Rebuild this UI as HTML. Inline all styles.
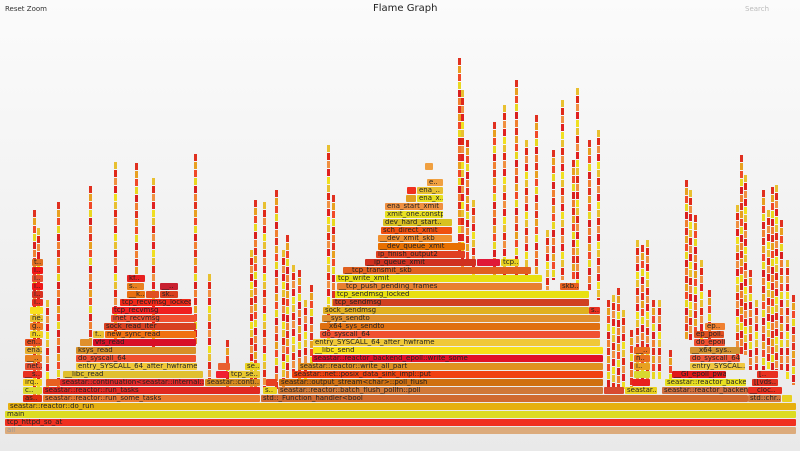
<!DOCTYPE html>
<html><head><meta charset="utf-8"><style>
html,body{margin:0;padding:0}
body{width:800px;height:451px;overflow:hidden;position:relative;background:linear-gradient(#fbfbfb,#e9e9e9);font-family:"DejaVu Sans","Liberation Sans",sans-serif}
.b{position:absolute;height:7px;line-height:7px;font-size:7px;color:#222;white-space:nowrap;overflow:hidden;padding-left:2px;box-sizing:border-box;border-radius:1px}
.s{position:absolute;width:3px;background:repeating-linear-gradient(#e03020 0 7px,transparent 7px 8px,#e8a020 8px 15px,transparent 15px 16px,#f04828 16px 23px,transparent 23px 24px,#e8d820 24px 31px,transparent 31px 32px,#d82020 32px 39px,transparent 39px 40px,#f08030 40px 47px,transparent 47px 48px)}
.s2{background:repeating-linear-gradient(#e8c030 0 7px,transparent 7px 8px,#e02818 8px 15px,transparent 15px 16px,#f09040 16px 23px,transparent 23px 24px,#e02020 24px 31px,transparent 31px 32px,#f0e020 32px 39px,transparent 39px 40px)}
.t{position:absolute;font-size:7px;color:#333}
</style></head><body>
<div class="t" style="left:5px;top:5px">Reset Zoom</div>
<div class="t" style="left:373px;top:3px;font-size:10px;color:#222">Flame Graph</div>
<div class="t" style="left:745px;top:5px;color:#bbb">Search</div>

<!-- spikes -->
<div class="s" style="left:33px;top:210px;height:185px"></div>
<div class="s s2" style="left:37px;top:228px;height:167px"></div>
<div class="s" style="left:57px;top:202px;height:185px"></div>
<div class="s s2" style="left:46px;top:300px;height:87px"></div>
<div class="s" style="left:89px;top:186px;height:160px"></div>
<div class="s s2" style="left:114px;top:162px;height:180px"></div>
<div class="s" style="left:135px;top:163px;height:180px"></div>
<div class="s s2" style="left:152px;top:178px;height:170px"></div>
<div class="s" style="left:194px;top:154px;height:190px"></div>
<div class="s s2" style="left:208px;top:274px;height:110px"></div>
<div class="s" style="left:226px;top:340px;height:50px"></div>
<div class="s s2" style="left:250px;top:250px;height:140px"></div>
<div class="s" style="left:254px;top:200px;height:190px"></div>
<div class="s s2" style="left:263px;top:202px;height:190px"></div>
<div class="s" style="left:275px;top:190px;height:200px"></div>
<div class="s s2" style="left:282px;top:250px;height:140px"></div>
<div class="s" style="left:286px;top:235px;height:150px"></div>
<div class="s s2" style="left:292px;top:265px;height:110px"></div>
<div class="s" style="left:298px;top:270px;height:110px"></div>
<div class="s s2" style="left:304px;top:300px;height:80px"></div>
<div class="s" style="left:310px;top:285px;height:80px"></div>
<div class="s s2" style="left:327px;top:145px;height:200px"></div>
<div class="s" style="left:332px;top:195px;height:150px"></div>
<div class="s" style="left:458px;top:58px;height:200px"></div>
<div class="s s2" style="left:461px;top:90px;height:180px"></div>
<div class="s" style="left:466px;top:140px;height:120px"></div>
<div class="s s2" style="left:472px;top:200px;height:80px"></div>
<div class="s" style="left:493px;top:122px;height:160px"></div>
<div class="s s2" style="left:503px;top:105px;height:170px"></div>
<div class="s" style="left:515px;top:80px;height:200px"></div>
<div class="s s2" style="left:525px;top:140px;height:140px"></div>
<div class="s" style="left:535px;top:115px;height:160px"></div>
<div class="s s2" style="left:546px;top:230px;height:60px"></div>
<div class="s" style="left:552px;top:150px;height:130px"></div>
<div class="s s2" style="left:561px;top:100px;height:180px"></div>
<div class="s" style="left:572px;top:160px;height:120px"></div>
<div class="s s2" style="left:576px;top:88px;height:200px"></div>
<div class="s" style="left:588px;top:140px;height:150px"></div>
<div class="s s2" style="left:597px;top:130px;height:170px"></div>
<div class="s" style="left:607px;top:300px;height:90px"></div>
<div class="s s2" style="left:612px;top:295px;height:95px"></div>
<div class="s" style="left:617px;top:288px;height:100px"></div>
<div class="s s2" style="left:622px;top:310px;height:80px"></div>
<div class="s" style="left:630px;top:330px;height:60px"></div>
<div class="s s2" style="left:636px;top:240px;height:140px"></div>
<div class="s" style="left:641px;top:245px;height:140px"></div>
<div class="s s2" style="left:646px;top:240px;height:140px"></div>
<div class="s" style="left:652px;top:300px;height:80px"></div>
<div class="s s2" style="left:658px;top:300px;height:80px"></div>
<div class="s" style="left:669px;top:350px;height:30px"></div>
<div class="s" style="left:685px;top:180px;height:160px"></div>
<div class="s s2" style="left:689px;top:190px;height:150px"></div>
<div class="s" style="left:694px;top:215px;height:120px"></div>
<div class="s s2" style="left:700px;top:260px;height:80px"></div>
<div class="s" style="left:708px;top:290px;height:50px"></div>
<div class="s s2" style="left:736px;top:205px;height:150px"></div>
<div class="s" style="left:740px;top:155px;height:200px"></div>
<div class="s s2" style="left:744px;top:175px;height:180px"></div>
<div class="s" style="left:749px;top:270px;height:100px"></div>
<div class="s s2" style="left:755px;top:300px;height:70px"></div>
<div class="s" style="left:762px;top:190px;height:180px"></div>
<div class="s s2" style="left:767px;top:210px;height:160px"></div>
<div class="s" style="left:771px;top:187px;height:185px"></div>
<div class="s s2" style="left:775px;top:185px;height:185px"></div>
<div class="s" style="left:780px;top:220px;height:150px"></div>
<div class="s s2" style="left:786px;top:260px;height:120px"></div>
<div class="s" style="left:792px;top:295px;height:90px"></div>

<!-- base -->
<div class="b" style="left:5px;top:427px;width:791px;background:#dcab7c;color:#999">all</div>
<div class="b" style="left:5px;top:419px;width:791px;background:#f03020">tcp_httpd_so_at</div>
<div class="b" style="left:5px;top:411px;width:791px;background:#dcdc22">main</div>
<div class="b" style="left:8px;top:403px;width:788px;background:#e6b010">seastar::reactor::do_run</div>
<div class="b" style="left:23px;top:395px;width:19px;background:#e03010">as..</div>
<div class="b" style="left:43px;top:395px;width:217px;background:#ea7a30">seastar::reactor::run_some_tasks</div>
<div class="b" style="left:261px;top:395px;width:487px;background:#d06a30">std::_Function_handler&lt;bool</div>
<div class="b" style="left:748px;top:395px;width:33px;background:#d07840">std::chr..</div>
<div class="b" style="left:782px;top:395px;width:10px;background:#e8d020"></div>
<div class="b" style="left:23px;top:387px;width:19px;background:#dada30">c..</div>
<div class="b" style="left:43px;top:387px;width:217px;background:#e02820">seastar::reactor::run_tasks</div>
<div class="b" style="left:263px;top:387px;width:14px;background:#e8d020">s..</div>
<div class="b" style="left:278px;top:387px;width:325px;background:#d07838">seastar::reactor::batch_flush_pollfn::poll</div>
<div class="b" style="left:604px;top:387px;width:20px;background:#d84a30"></div>
<div class="b" style="left:625px;top:387px;width:32px;background:#e8d020">seastar..</div>
<div class="b" style="left:662px;top:387px;width:86px;background:#d07040">seastar::reactor_backen..</div>
<div class="b" style="left:748px;top:387px;width:34px;background:#e83020">__cloc..</div>
<div class="b" style="left:23px;top:379px;width:19px;background:#f8d020">irq..</div>
<div class="b" style="left:46px;top:379px;width:14px;background:#e86020"></div>
<div class="b" style="left:60px;top:379px;width:144px;background:#e02828">seastar::continuation&lt;seastar::internal::pro..</div>
<div class="b" style="left:205px;top:379px;width:55px;background:#d88c20">seastar::conti..</div>
<div class="b" style="left:266px;top:379px;width:11px;background:#e84020"></div>
<div class="b" style="left:279px;top:379px;width:324px;background:#d07010">seastar::output_stream&lt;char&gt;::poll_flush</div>
<div class="b" style="left:632px;top:379px;width:18px;background:#e82020"></div>
<div class="b" style="left:665px;top:379px;width:81px;background:#e8e020">seastar::reactor_backe..</div>
<div class="b" style="left:752px;top:379px;width:26px;background:#e03020">[[vds..</div>
<div class="b" style="left:23px;top:371px;width:19px;background:#e83020">__s..</div>
<div class="b" style="left:63px;top:371px;width:140px;background:#e0c030">__libc_read</div>
<div class="b" style="left:216px;top:371px;width:12px;background:#f02030"></div>
<div class="b" style="left:229px;top:371px;width:31px;background:#e8c830">tcp_se..</div>
<div class="b" style="left:292px;top:371px;width:311px;background:#f04010">seastar::net::posix_data_sink_impl::put</div>
<div class="b" style="left:634px;top:371px;width:16px;background:#d8d830"></div>
<div class="b" style="left:672px;top:371px;width:54px;background:#e01818">__GI_epoll_pwait</div>
<div class="b" style="left:757px;top:371px;width:21px;background:#e83020">[..</div>
<div class="b" style="left:25px;top:363px;width:17px;background:#e85030">net..</div>
<div class="b" style="left:76px;top:363px;width:121px;background:#f0c838">entry_SYSCALL_64_after_hwframe</div>
<div class="b" style="left:218px;top:363px;width:12px;background:#e86030"></div>
<div class="b" style="left:245px;top:363px;width:15px;background:#e8d020">se..</div>
<div class="b" style="left:298px;top:363px;width:305px;background:#e09020">seastar::reactor::write_all_part</div>
<div class="b" style="left:634px;top:363px;width:16px;background:#e8a020">i..</div>
<div class="b" style="left:690px;top:363px;width:55px;background:#f0c840">entry_SYSCAL..</div>
<div class="b" style="left:25px;top:355px;width:17px;background:#e88020">__..</div>
<div class="b" style="left:76px;top:355px;width:120px;background:#f05030">do_syscall_64</div>
<div class="b" style="left:312px;top:355px;width:291px;background:#e01028">seastar::reactor_backend_epoll::write_some</div>
<div class="b" style="left:634px;top:355px;width:16px;background:#e87020">n..</div>
<div class="b" style="left:690px;top:355px;width:50px;background:#f05838">do_syscall_64</div>
<div class="b" style="left:25px;top:347px;width:17px;background:#e8b030">ena..</div>
<div class="b" style="left:76px;top:347px;width:120px;background:#d89028">ksys_read</div>
<div class="b" style="left:313px;top:347px;width:290px;background:#f8e018">__libc_send</div>
<div class="b" style="left:634px;top:347px;width:16px;background:#e87020">__..</div>
<div class="b" style="left:690px;top:347px;width:50px;background:#d09030">__x64_sys..</div>
<div class="b" style="left:25px;top:339px;width:17px;background:#e85020">en..</div>
<div class="b" style="left:80px;top:339px;width:12px;background:#e0902c"></div>
<div class="b" style="left:93px;top:339px;width:103px;background:#d81028">vfs_read</div>
<div class="b" style="left:313px;top:339px;width:287px;background:#f0c838">entry_SYSCALL_64_after_hwframe</div>
<div class="b" style="left:694px;top:339px;width:31px;background:#f05030">do_epoll..</div>
<div class="b" style="left:30px;top:331px;width:13px;background:#f0d020">n..</div>
<div class="b" style="left:93px;top:331px;width:11px;background:#e8c030">f..</div>
<div class="b" style="left:105px;top:331px;width:91px;background:#f07010">new_sync_read</div>
<div class="b" style="left:320px;top:331px;width:280px;background:#f05030">do_syscall_64</div>
<div class="b" style="left:694px;top:331px;width:30px;background:#e05020">ep_poll..</div>
<div class="b" style="left:30px;top:323px;width:13px;background:#f07820">g..</div>
<div class="b" style="left:104px;top:323px;width:92px;background:#d84020">sock_read_iter</div>
<div class="b" style="left:320px;top:323px;width:280px;background:#e07010">__x64_sys_sendto</div>
<div class="b" style="left:705px;top:323px;width:20px;background:#f08030">ep..</div>
<div class="b" style="left:30px;top:315px;width:13px;background:#e8c030">ne..</div>
<div class="b" style="left:111px;top:315px;width:85px;background:#f05030">inet_recvmsg</div>
<div class="b" style="left:322px;top:315px;width:278px;background:#e09030">__sys_sendto</div>
<div class="b" style="left:30px;top:307px;width:13px;background:#f8e020"></div>
<div class="b" style="left:112px;top:307px;width:80px;background:#f02020">tcp_recvmsg</div>
<div class="b" style="left:323px;top:307px;width:266px;background:#e0b020">sock_sendmsg</div>
<div class="b" style="left:589px;top:307px;width:11px;background:#e83020">s..</div>
<div class="b" style="left:32px;top:299px;width:11px;background:#e83020">i..</div>
<div class="b" style="left:120px;top:299px;width:71px;background:#f02818">tcp_recvmsg_locked</div>
<div class="b" style="left:333px;top:299px;width:256px;background:#d04020">tcp_sendmsg</div>
<div class="b" style="left:32px;top:291px;width:11px;background:#d83020">i..</div>
<div class="b" style="left:127px;top:291px;width:18px;background:#e87010">__k..</div>
<div class="b" style="left:146px;top:291px;width:13px;background:#e05020"></div>
<div class="b" style="left:160px;top:291px;width:18px;background:#d84020">sk..</div>
<div class="b" style="left:335px;top:291px;width:254px;background:#e8e010">tcp_sendmsg_locked</div>
<div class="b" style="left:32px;top:283px;width:11px;background:#f01818">i..</div>
<div class="b" style="left:127px;top:283px;width:17px;background:#e88020">s..</div>
<div class="b" style="left:160px;top:283px;width:18px;background:#c82030">__..</div>
<div class="b" style="left:337px;top:283px;width:205px;background:#e88030">__tcp_push_pending_frames</div>
<div class="b" style="left:560px;top:283px;width:19px;background:#e86020">skb..</div>
<div class="b" style="left:32px;top:275px;width:11px;background:#e85030">i..</div>
<div class="b" style="left:127px;top:275px;width:18px;background:#e82020">kf..</div>
<div class="b" style="left:336px;top:275px;width:206px;background:#e8e010">tcp_write_xmit</div>
<div class="b" style="left:32px;top:267px;width:11px;background:#f01818">i..</div>
<div class="b" style="left:343px;top:267px;width:188px;background:#e06020">__tcp_transmit_skb</div>
<div class="b" style="left:32px;top:259px;width:11px;background:#e07020">t..</div>
<div class="b" style="left:365px;top:259px;width:111px;background:#d03020">__ip_queue_xmit</div>
<div class="b" style="left:477px;top:259px;width:23px;background:#e01838"></div>
<div class="b" style="left:501px;top:259px;width:18px;background:#e8d020">tcp..</div>
<div class="b" style="left:376px;top:251px;width:89px;background:#e04020">ip_finish_output2</div>
<div class="b" style="left:378px;top:243px;width:87px;background:#e87000">__dev_queue_xmit</div>
<div class="b" style="left:378px;top:235px;width:74px;background:#f09030">__dev_xmit_skb</div>
<div class="b" style="left:381px;top:227px;width:71px;background:#f05010">sch_direct_xmit</div>
<div class="b" style="left:383px;top:219px;width:69px;background:#d8c020">dev_hard_start..</div>
<div class="b" style="left:385px;top:211px;width:58px;background:#e8e020">xmit_one.constp..</div>
<div class="b" style="left:385px;top:203px;width:58px;background:#f09040">ena_start_xmit</div>
<div class="b" style="left:406px;top:195px;width:10px;background:#e0a020"></div>
<div class="b" style="left:417px;top:195px;width:26px;background:#e8e020">ena_x..</div>
<div class="b" style="left:407px;top:187px;width:9px;background:#f03020"></div>
<div class="b" style="left:417px;top:187px;width:26px;background:#e8c030">ena_..</div>
<div class="b" style="left:427px;top:179px;width:16px;background:#f0a040">e..</div>
<div class="b" style="left:425px;top:163px;width:8px;background:#f0a040"></div>
</body></html>
